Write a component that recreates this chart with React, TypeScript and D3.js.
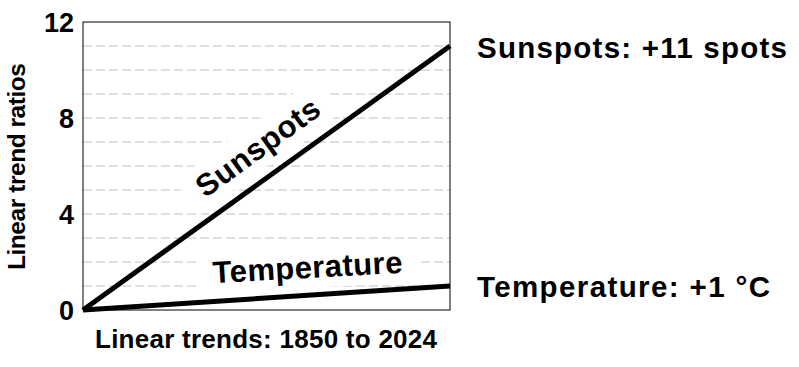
import React from "react";
import * as d3 from "d3";

const years = [1850, 2024];
const sunspots = [0, 11];
const temperature = [0, 1];
const yTicks = [0, 4, 8, 12];
const yDomain = [0, 12];
const seriesNames = ["Sunspots", "Temperature"];
const endLabels = ["Sunspots: +11 spots", "Temperature: +1 \u00B0C"];
const xTitle = "Linear trends: 1850 to 2024";
const yTitle = "Linear trend ratios";

const FONT = "Liberation Sans, Arimo, Arial, Roboto, sans-serif";

export default function App() {
  const W = 799, H = 367;
  const left = 83, right = 450, top = 22, bottom = 310;
  const x = d3.scaleLinear().domain(d3.extent(years) as [number, number]).range([left, right]);
  const y = d3.scaleLinear().domain(yDomain).range([bottom, top]);
  const grid = y.ticks(12).filter((v) => v > yDomain[0] && v < yDomain[1]);
  const line = d3.line<number>().x((_, i) => x(years[i])).y((d) => y(d));

  const inLabels = [
    { text: seriesNames[0], px: 264, py: 156, rot: -36, len: 145, pad: 15 },
    { text: seriesNames[1], px: 308, py: 278, rot: -3.2, len: 190, pad: 15 },
  ];

  const ts = { fontFamily: FONT, fontWeight: 700 } as React.CSSProperties;

  return (
    <svg width={W} height={H} style={{ position: "absolute", left: 0, top: 0, background: "#fff" }}>
      <rect x={0} y={0} width={W} height={H} fill="#fff" />
      {grid.map((v) => (
        <line key={v} x1={left} x2={right} y1={y(v)} y2={y(v)} stroke="#c0c0c0" strokeWidth={1} strokeDasharray="9,4" />
      ))}
      {inLabels.map((l) => (
        <g key={"bg" + l.text} transform={`translate(${l.px},${l.py}) rotate(${l.rot})`}>
          <rect x={-l.len / 2 - l.pad} y={-33} width={l.len + 2 * l.pad} height={43} fill="#fff" />
        </g>
      ))}
      <rect x={left} y={top} width={right - left} height={bottom - top} fill="none" stroke="#000" strokeWidth={1} />
      <path d={line(sunspots) || ""} fill="none" stroke="#000" strokeWidth={5} />
      <path d={line(temperature) || ""} fill="none" stroke="#000" strokeWidth={5} />
      {inLabels.map((l) => (
        <text
          key={l.text}
          transform={`translate(${l.px},${l.py}) rotate(${l.rot})`}
          textAnchor="middle"
          style={{ ...ts, fontSize: 31 }}
          textLength={l.len}
          lengthAdjust="spacing"
        >
          {l.text}
        </text>
      ))}
      {yTicks.map((v) => (
        <text key={v} x={74} y={y(v) + 10} textAnchor="end" style={{ ...ts, fontSize: 27 }}>
          {v}
        </text>
      ))}
      <text
        transform={`translate(25,166.5) rotate(-90)`}
        textAnchor="middle"
        style={{ ...ts, fontSize: 24.5 }}
        textLength={207}
        lengthAdjust="spacing"
      >
        {yTitle}
      </text>
      <text x={95} y={348} style={{ ...ts, fontSize: 26 }} textLength={342} lengthAdjust="spacing">
        {xTitle}
      </text>
      <text x={477} y={58} style={{ ...ts, fontSize: 29.5 }} textLength={310} lengthAdjust="spacing">
        {endLabels[0]}
      </text>
      <text x={477} y={297} style={{ ...ts, fontSize: 29.5 }} textLength={293} lengthAdjust="spacing">
        {endLabels[1]}
      </text>
    </svg>
  );
}
